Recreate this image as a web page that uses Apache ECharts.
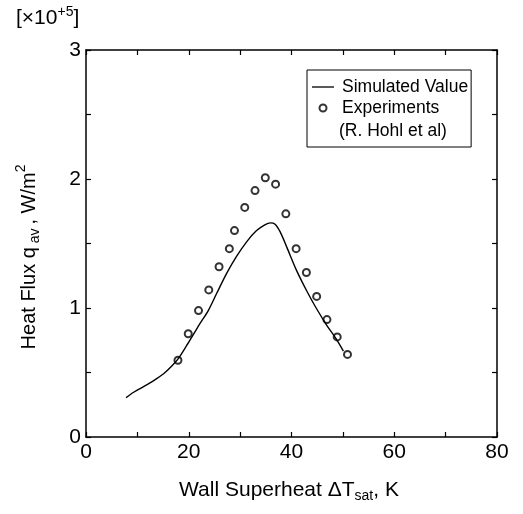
<!DOCTYPE html>
<html>
<head>
<meta charset="utf-8">
<script src="https://cdn.jsdelivr.net/npm/echarts@6/dist/echarts.min.js"></script>
<style>
html,body{margin:0;padding:0;background:#fff;}
#chart{width:523px;height:514px;}
</style>
</head>
<body>
<div id="chart"></div>
<script>
// Simulated value curve (x: wall superheat K, y: heat flux ×10^5 W/m²)
var simX = [7.8, 9.2, 11.2, 13.1, 15.1, 16.7, 18.0, 19.6, 21.2, 22.2, 23.8, 25.4, 27.4, 29.3, 31.3, 33.2, 34.8, 35.9, 36.8, 37.8, 39.1, 41.0, 43.0, 44.8, 46.8, 48.7, 50.1];
var simY = [0.305, 0.345, 0.39, 0.435, 0.49, 0.55, 0.61, 0.71, 0.815, 0.88, 0.98, 1.11, 1.27, 1.40, 1.515, 1.60, 1.645, 1.66, 1.65, 1.59, 1.47, 1.29, 1.13, 1.00, 0.87, 0.76, 0.665];
// Experiments (R. Hohl et al)
var expX = [17.9, 19.9, 21.9, 23.9, 25.9, 27.9, 28.9, 30.9, 32.9, 34.9, 36.9, 38.9, 40.9, 42.9, 44.9, 46.9, 48.9, 50.9];
var expY = [0.595, 0.80, 0.98, 1.14, 1.32, 1.46, 1.60, 1.78, 1.91, 2.01, 1.96, 1.73, 1.46, 1.275, 1.09, 0.91, 0.776, 0.64];
// axis tick labels
var xTickLabels = [0, 20, 40, 60, 80];
var yTickLabels = [0, 1, 2, 3];

var FONT = '"Liberation Sans", Arial, sans-serif';
var simData = simX.map(function (x, i) { return [x, simY[i]]; });
var expData = expX.map(function (x, i) { return [x, expY[i]]; });

var chart = echarts.init(document.getElementById('chart'), null, {renderer: 'canvas'});

function line() { return {show: true, onZero: false, lineStyle: {color: '#000', width: 1.5}}; }
function tick() { return {show: true, inside: true, length: 5, lineStyle: {color: '#000', width: 1.2}}; }

var option = {
  backgroundColor: '#fff',
  animation: false,
  grid: {left: 86, right: 26, top: 50, bottom: 77},
  xAxis: [{
    type: 'value', min: 0, max: 80, interval: 10, position: 'bottom',
    axisLine: line(), axisTick: tick(), splitLine: {show: false},
    axisLabel: {
      color: '#000', fontFamily: FONT, fontSize: 21, margin: 5,
      formatter: function (v) { return xTickLabels.indexOf(v) >= 0 ? String(v) : ''; }
    }
  }, {
    type: 'value', min: 0, max: 80, interval: 10, position: 'top',
    axisLine: line(), axisTick: tick(), splitLine: {show: false},
    axisLabel: {show: false}
  }],
  yAxis: [{
    type: 'value', min: 0, max: 3, interval: 0.5, position: 'left',
    axisLine: line(), axisTick: tick(), splitLine: {show: false},
    axisLabel: {
      color: '#000', fontFamily: FONT, fontSize: 21, margin: 5,
      formatter: function (v) { return yTickLabels.indexOf(v) >= 0 ? String(v) : ''; }
    }
  }, {
    type: 'value', min: 0, max: 3, interval: 0.5, position: 'right',
    axisLine: line(), axisTick: tick(), splitLine: {show: false},
    axisLabel: {show: false}
  }],
  legend: {
    show: true,
    orient: 'vertical',
    left: 307, top: 70,
    padding: [8, 3, 30, 5],
    itemGap: 3,
    itemWidth: 22,
    itemHeight: 7,
    borderColor: '#000',
    borderWidth: 1,
    backgroundColor: '#fff',
    textStyle: {color: '#000', fontFamily: FONT, fontSize: 17.5, padding: [0, 0, 0, 3]},
    data: [
      {name: 'Simulated Value', icon: 'path://M0,0 L22,0 L22,1.3 L0,1.3 Z', itemStyle: {color: '#000'}},
      {name: 'Experiments', icon: 'emptyCircle'}
    ]
  },
  graphic: [
    {
      type: 'text', left: 339, top: 122, z: 100,
      style: {text: '(R. Hohl et al)', fill: '#000', font: '17.5px ' + FONT}
    },
    {
      type: 'text', left: 16, top: 5,
      style: {
        text: '{a|[\u00d710}{s|+5}{a|]}',
        rich: {
          a: {fontFamily: FONT, fontSize: 21, color: '#000'},
          s: {fontFamily: FONT, fontSize: 14, color: '#000', padding: [0, 0, 13, 0]}
        }
      }
    },
    {
      type: 'text', x: 289, y: 490,
      style: {
        text: '{a|Wall Superheat \u0394T}{s|sat}{a|, K}',
        align: 'center', verticalAlign: 'middle',
        rich: {
          a: {fontFamily: FONT, fontSize: 21, color: '#000'},
          s: {fontFamily: FONT, fontSize: 14, color: '#000', padding: [12, 0, 0, 0]}
        }
      }
    },
    {
      type: 'text', x: 29, y: 257, rotation: Math.PI / 2,
      style: {
        text: '{a|Heat Flux q}{s| av }{a|, W/m}{p|2}',
        align: 'center', verticalAlign: 'middle',
        rich: {
          a: {fontFamily: FONT, fontSize: 20, color: '#000'},
          s: {fontFamily: FONT, fontSize: 14, color: '#000', padding: [12, 0, 0, 0]},
          p: {fontFamily: FONT, fontSize: 14, color: '#000', padding: [0, 0, 15, 0]}
        }
      }
    }
  ],
  series: [
    {
      name: 'Simulated Value', type: 'line', data: simData,
      xAxisIndex: 0, yAxisIndex: 0,
      symbol: 'none', smooth: 0.3,
      lineStyle: {color: '#000', width: 1.4},
      itemStyle: {color: '#000'}
    },
    {
      name: 'Experiments', type: 'scatter', data: expData,
      xAxisIndex: 0, yAxisIndex: 0,
      symbol: 'emptyCircle', symbolSize: 7,
      itemStyle: {color: '#000', borderColor: '#000', borderWidth: 1.2}
    }
  ]
};
chart.setOption(option);
</script>
</body>
</html>
